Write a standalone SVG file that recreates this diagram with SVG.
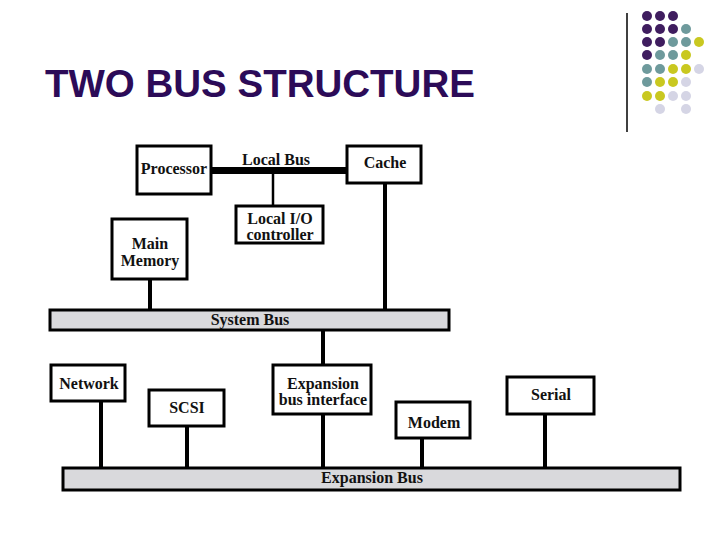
<svg xmlns="http://www.w3.org/2000/svg" width="720" height="540" viewBox="0 0 720 540">
<style>
.box{fill:#fff;stroke:#000;stroke-width:3}
.bus{fill:#d9d9dc;stroke:#000;stroke-width:3}
.t{font-family:"Liberation Serif","Times New Roman",serif;font-weight:bold;font-size:16px;fill:#111;text-anchor:middle}
.ln{stroke:#000;stroke-width:4;fill:none}
.p{fill:#3f1d5f}.g{fill:#6e9a9c}.y{fill:#c9c820}.l{fill:#d5d5e5}
</style>
<rect width="720" height="540" fill="#fff"/>
<g id="decor">
<line x1="627" y1="13" x2="627" y2="132" stroke="#000" stroke-width="1.5"/>
<circle class="p" cx="647" cy="16" r="5"/><circle class="p" cx="660" cy="16" r="5"/><circle class="p" cx="673" cy="16" r="5"/>
<circle class="p" cx="647" cy="29" r="5"/><circle class="p" cx="660" cy="29" r="5"/><circle class="p" cx="673" cy="29" r="5"/><circle class="g" cx="686" cy="29" r="5"/>
<circle class="p" cx="647" cy="42" r="5"/><circle class="p" cx="660" cy="42" r="5"/><circle class="g" cx="673" cy="42" r="5"/><circle class="g" cx="686" cy="42" r="5"/><circle class="y" cx="699" cy="42" r="5"/>
<circle class="p" cx="647" cy="55" r="5"/><circle class="g" cx="660" cy="55" r="5"/><circle class="g" cx="673" cy="55" r="5"/><circle class="y" cx="686" cy="55" r="5"/>
<circle class="g" cx="647" cy="69" r="5"/><circle class="g" cx="660" cy="69" r="5"/><circle class="y" cx="673" cy="69" r="5"/><circle class="y" cx="686" cy="69" r="5"/><circle class="l" cx="699" cy="69" r="5"/>
<circle class="g" cx="647" cy="82" r="5"/><circle class="y" cx="660" cy="82" r="5"/><circle class="y" cx="673" cy="82" r="5"/><circle class="l" cx="686" cy="82" r="5"/>
<circle class="y" cx="647" cy="96" r="5"/><circle class="y" cx="660" cy="96" r="5"/><circle class="l" cx="673" cy="96" r="5"/><circle class="l" cx="686" cy="96" r="5"/>
<circle class="l" cx="660" cy="109" r="5"/><circle class="l" cx="686" cy="109" r="5"/>
</g>
<text id="title" x="45" y="97" font-family="'Liberation Sans',Arial,sans-serif" font-size="38.5" font-weight="bold" fill="#2c0b58">TWO BUS STRUCTURE</text>
<g id="connectors">
<line x1="211" y1="170.5" x2="347" y2="170.5" stroke="#000" stroke-width="7"/>
<line x1="273" y1="174" x2="273" y2="206" stroke="#000" stroke-width="2.5"/>
<line class="ln" x1="150" y1="279" x2="150" y2="310"/>
<line class="ln" x1="385" y1="183" x2="385" y2="310"/>
<line class="ln" x1="323" y1="330" x2="323" y2="365"/>
<line class="ln" x1="101" y1="401" x2="101" y2="468"/>
<line class="ln" x1="187" y1="426" x2="187" y2="468"/>
<line class="ln" x1="323" y1="414" x2="323" y2="468"/>
<line class="ln" x1="422" y1="438" x2="422" y2="468"/>
<line class="ln" x1="545" y1="414" x2="545" y2="468"/>
<text class="t" x="276" y="165">Local Bus</text>
</g>
<g id="processor"><rect class="box" x="137" y="146" width="74" height="48"/><text class="t" x="174" y="174">Processor</text></g>
<g id="cache"><rect class="box" x="347" y="146" width="74" height="37"/><text class="t" x="385" y="168">Cache</text></g>
<g id="localio"><rect class="box" x="236" y="206" width="87" height="37"/><text class="t" x="280" y="224">Local I/O</text><text class="t" x="280" y="240">controller</text></g>
<g id="mainmemory"><rect class="box" x="112" y="219" width="75" height="60"/><text class="t" x="150" y="249">Main</text><text class="t" x="150" y="266">Memory</text></g>
<g id="systembus"><rect class="bus" x="50" y="310" width="399" height="20"/><text class="t" x="250" y="325">System Bus</text></g>
<g id="network"><rect class="box" x="51" y="365" width="74" height="36"/><text class="t" x="89" y="389">Network</text></g>
<g id="scsi"><rect class="box" x="149" y="390" width="75" height="36"/><text class="t" x="187" y="413">SCSI</text></g>
<g id="ebi"><rect class="box" x="273" y="365" width="98" height="49"/><text class="t" x="323" y="389">Expansion</text><text class="t" x="323" y="405">bus interface</text></g>
<g id="modem"><rect class="box" x="396" y="402" width="74" height="36"/><text class="t" x="434" y="428">Modem</text></g>
<g id="serial"><rect class="box" x="507" y="377" width="87" height="37"/><text class="t" x="551" y="400">Serial</text></g>
<g id="expansionbus"><rect class="bus" x="63" y="468" width="617" height="22"/><text class="t" x="372" y="483">Expansion Bus</text></g>
</svg>
